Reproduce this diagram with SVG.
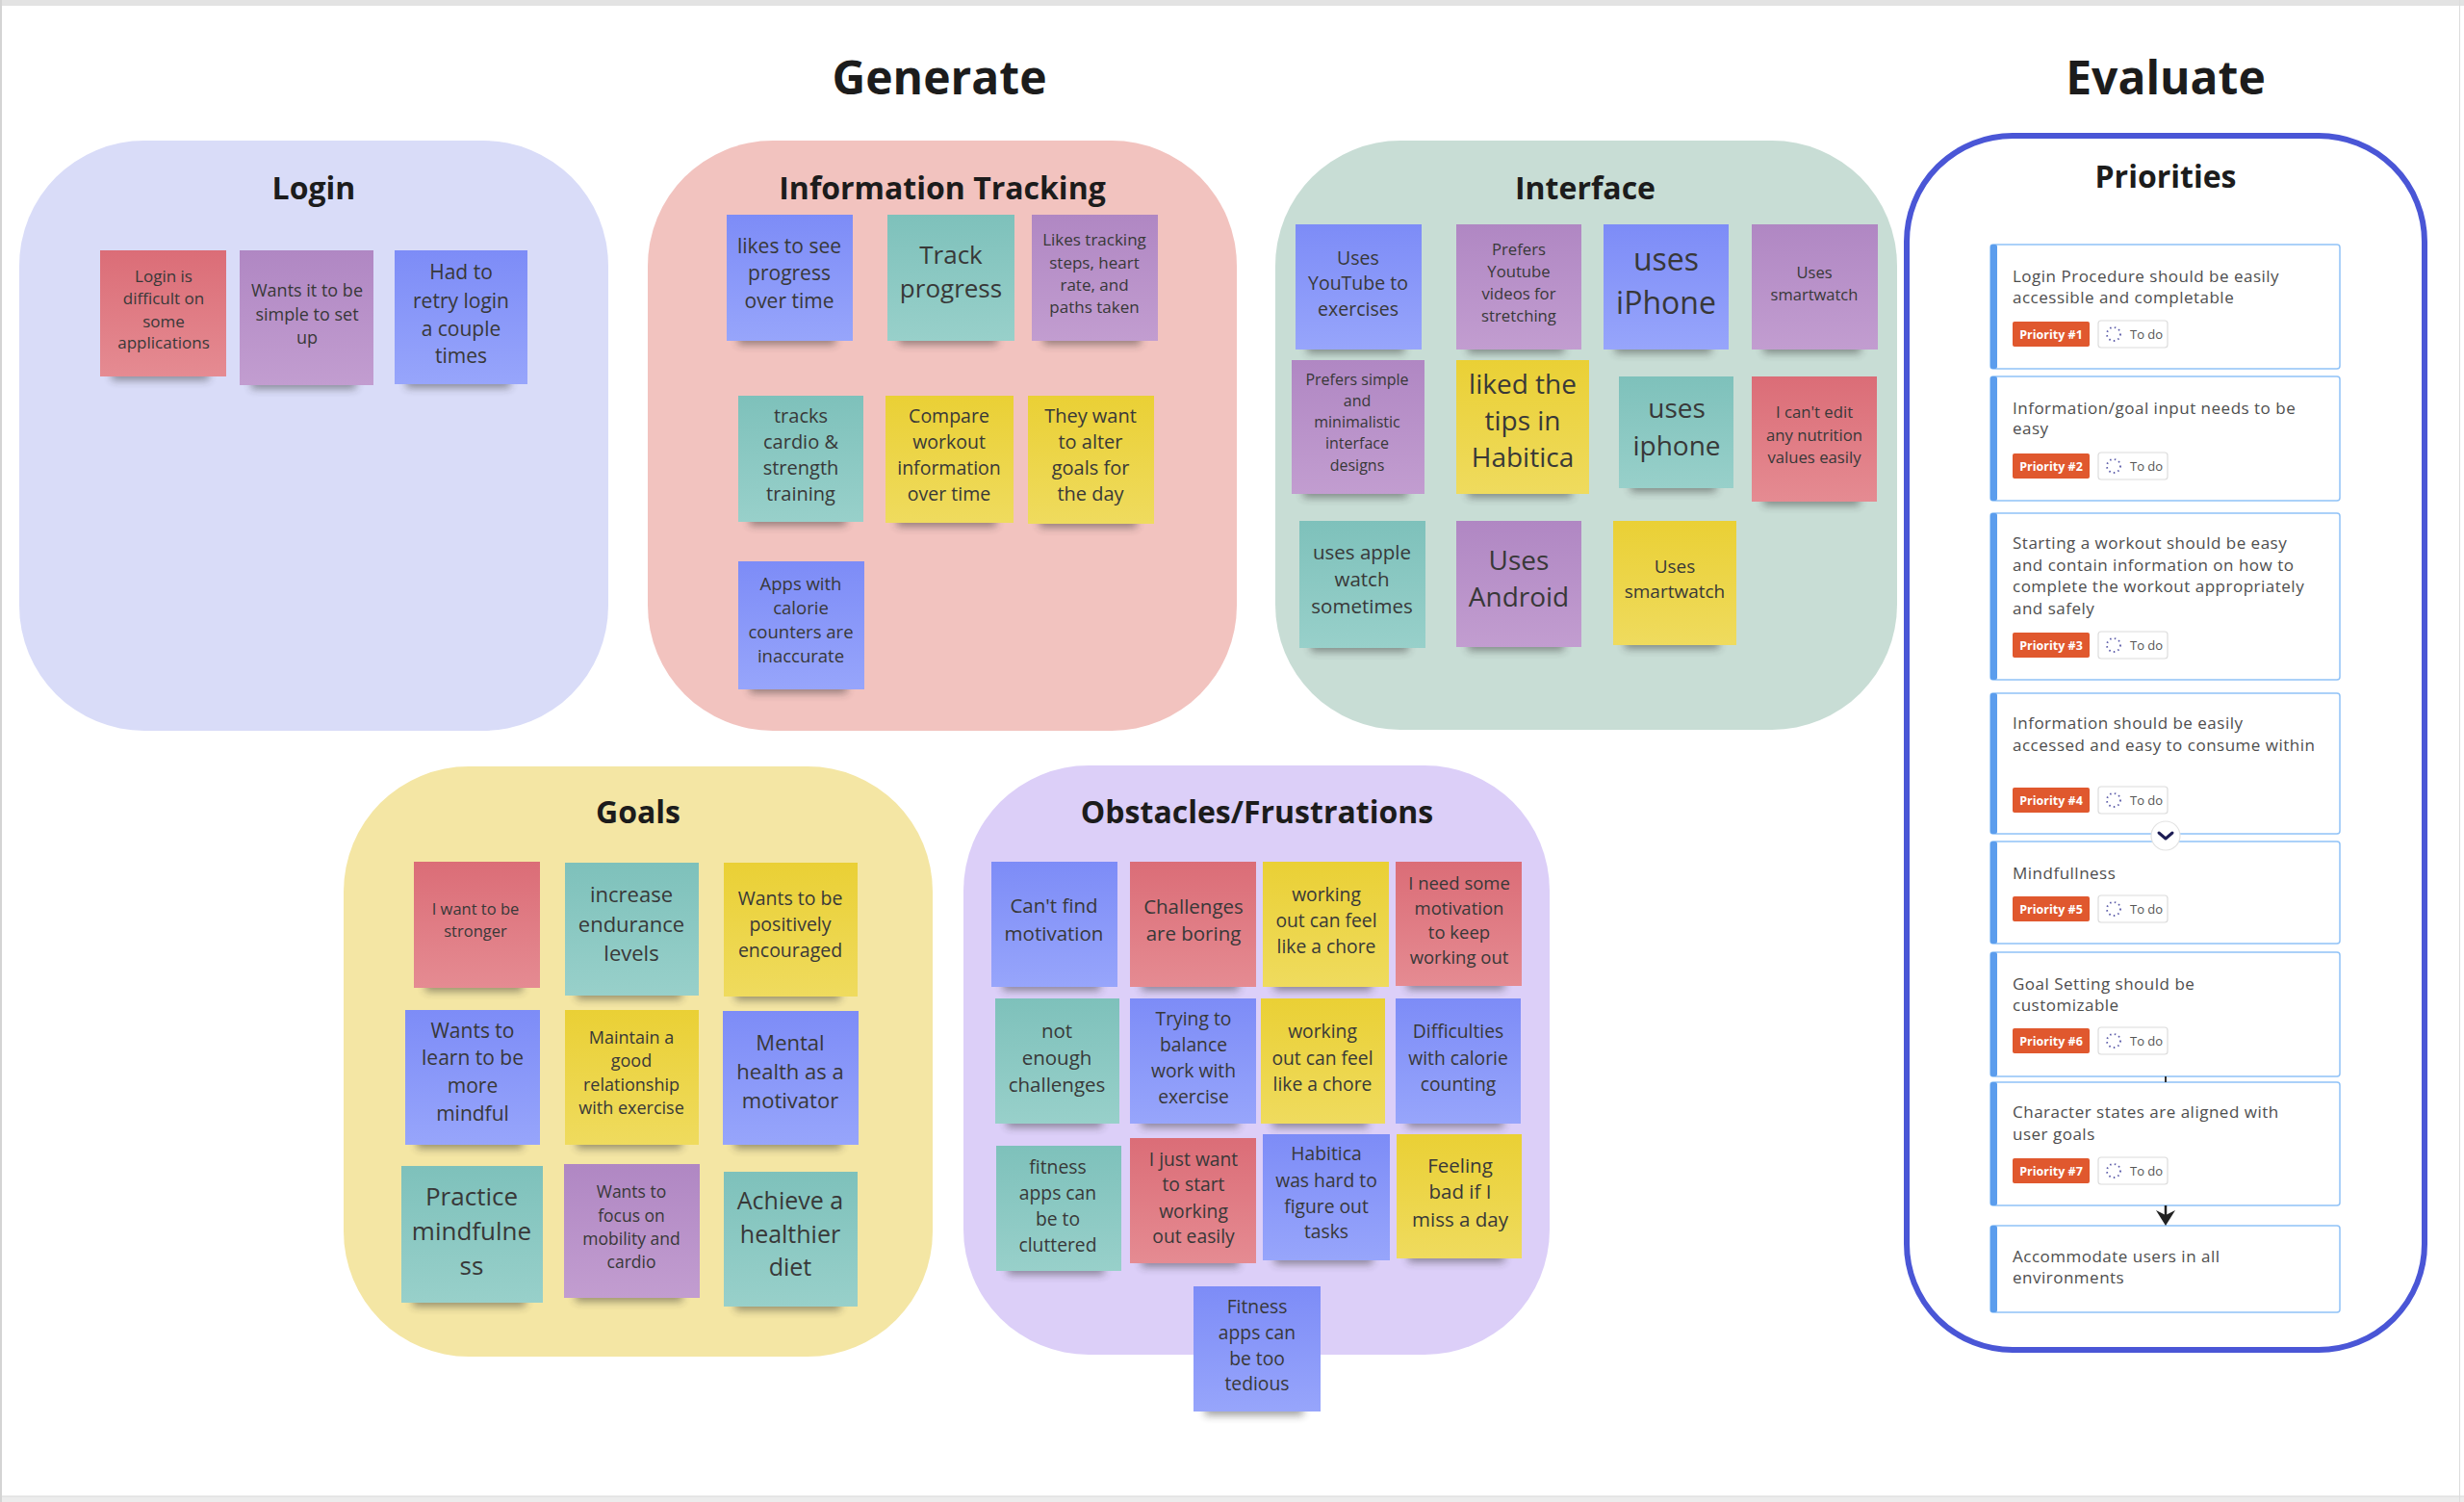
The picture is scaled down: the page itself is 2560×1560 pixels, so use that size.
<svg xmlns="http://www.w3.org/2000/svg" width="2560" height="1560" viewBox="0 0 2560 1560">
<defs>
<linearGradient id="gR" x1="0" y1="0" x2="0" y2="1"><stop offset="0" stop-color="#db6d77"/><stop offset="1" stop-color="#e58b92"/></linearGradient>
<linearGradient id="gP" x1="0" y1="0" x2="0" y2="1"><stop offset="0" stop-color="#b087c3"/><stop offset="1" stop-color="#c29dd0"/></linearGradient>
<linearGradient id="gB" x1="0" y1="0" x2="0" y2="1"><stop offset="0" stop-color="#7d8cf7"/><stop offset="1" stop-color="#97a5fb"/></linearGradient>
<linearGradient id="gT" x1="0" y1="0" x2="0" y2="1"><stop offset="0" stop-color="#7ec1bb"/><stop offset="1" stop-color="#98d0ca"/></linearGradient>
<linearGradient id="gY" x1="0" y1="0" x2="0" y2="1"><stop offset="0" stop-color="#ead035"/><stop offset="1" stop-color="#efdb5e"/></linearGradient>
<filter id="blur" x="-20%" y="-150%" width="140%" height="400%"><feGaussianBlur stdDeviation="4"/></filter>
</defs>
<style>
.t{font-family:"Open Sans","Liberation Sans",sans-serif;fill:#383838;text-anchor:middle}
.sh{fill:#2a2a2a;opacity:.45;filter:url(#blur)}
.ttl{font-family:"Open Sans","Liberation Sans",sans-serif;font-weight:700;font-size:32px;fill:#1c1c1c;text-anchor:middle}
.hd{font-family:"Open Sans","Liberation Sans",sans-serif;font-weight:700;font-size:48px;fill:#1c1c1c;text-anchor:middle}
.card{fill:#fff;stroke:#90c2f7;stroke-width:1.5}
.bar{fill:#5b9ded}
.ct{font-family:"Open Sans","Liberation Sans",sans-serif;font-size:17px;letter-spacing:0.5px;fill:#4e4e4e}
.badge{fill:#e0582e}
.bt{font-family:"Open Sans","Liberation Sans",sans-serif;font-size:12.5px;font-weight:700;fill:#fff;text-anchor:middle}
.todo{fill:#fff;stroke:#dcdcdc;stroke-width:1.2}
.dot{fill:none;stroke:#5a5aa8;stroke-width:1.8;stroke-dasharray:1.5 3.3}
.tt{font-family:"Open Sans","Liberation Sans",sans-serif;font-size:13px;fill:#555}
</style>
<rect x="0" y="0" width="2560" height="1560" fill="#fff"/>
<rect x="0" y="0" width="2560" height="6" fill="#e3e3e3"/>
<rect x="0" y="1554" width="2560" height="6" fill="#ececec"/>
<line x1="0" y1="1554" x2="2560" y2="1554" stroke="#d8d8d8" stroke-width="1"/>
<line x1="1" y1="0" x2="1" y2="1560" stroke="#d4d4d4" stroke-width="2"/>
<line x1="2555.5" y1="0" x2="2555.5" y2="1560" stroke="#dcdcdc" stroke-width="1"/>

<text class="hd" x="976" y="98">Generate</text>
<text class="hd" x="2250" y="98">Evaluate</text>

<g id="cluster-login">
<rect x="20" y="146" width="612" height="613" rx="130" fill="#d9dcf8"/>
<text class="ttl" x="326" y="207">Login</text>
</g>
<g id="cluster-info">
<rect x="673" y="146" width="612" height="613" rx="130" fill="#f2c3bf"/>
<text class="ttl" x="979" y="207">Information Tracking</text>
</g>
<g id="cluster-interface">
<rect x="1325" y="146" width="646" height="612" rx="130" fill="#c8ddd5"/>
<text class="ttl" x="1647" y="207">Interface</text>
</g>
<g id="cluster-goals">
<rect x="357" y="796" width="612" height="613" rx="130" fill="#f4e6a4"/>
<text class="ttl" x="663" y="855">Goals</text>
</g>
<g id="cluster-obstacles">
<rect x="1001" y="795" width="609" height="612" rx="130" fill="#dccff8"/>
<text class="ttl" x="1306" y="855">Obstacles/Frustrations</text>
</g>
<g id="cluster-priorities">
<rect x="1981" y="141" width="538" height="1261" rx="110" fill="#fff" stroke="#4a56d6" stroke-width="6"/>
<text class="ttl" x="2250" y="195">Priorities</text>
</g>

<!-- Login stickies -->
<g id="L1"><rect class="sh" x="116" y="381" width="101" height="14"/><rect x="104" y="260" width="131" height="131" fill="url(#gR)"/><text class="t" font-size="17"><tspan x="170" y="293">Login is</tspan><tspan x="170" y="316">difficult on</tspan><tspan x="170" y="340">some</tspan><tspan x="170" y="362">applications</tspan></text></g>
<g id="L2"><rect class="sh" x="261" y="390" width="109" height="14"/><rect x="249" y="260" width="139" height="140" fill="url(#gP)"/><text class="t" font-size="18"><tspan x="319" y="308">Wants it to be</tspan><tspan x="319" y="333">simple to set</tspan><tspan x="319" y="357">up</tspan></text></g>
<g id="L3"><rect class="sh" x="422" y="389" width="108" height="14"/><rect x="410" y="260" width="138" height="139" fill="url(#gB)"/><text class="t" font-size="21"><tspan x="479" y="290">Had to</tspan><tspan x="479" y="320">retry login</tspan><tspan x="479" y="349">a couple</tspan><tspan x="479" y="377">times</tspan></text></g>

<!-- Information Tracking stickies -->
<g id="I1"><rect class="sh" x="767" y="344" width="101" height="14"/><rect x="755" y="223" width="131" height="131" fill="url(#gB)"/><text class="t" font-size="21"><tspan x="820" y="263">likes to see</tspan><tspan x="820" y="291">progress</tspan><tspan x="820" y="320">over time</tspan></text></g>
<g id="I2"><rect class="sh" x="934" y="344" width="102" height="14"/><rect x="922" y="223" width="132" height="131" fill="url(#gT)"/><text class="t" font-size="26"><tspan x="988" y="274">Track</tspan><tspan x="988" y="309">progress</tspan></text></g>
<g id="I3"><rect class="sh" x="1084" y="344" width="101" height="14"/><rect x="1072" y="223" width="131" height="131" fill="url(#gP)"/><text class="t" font-size="17"><tspan x="1137" y="255">Likes tracking</tspan><tspan x="1137" y="279">steps, heart</tspan><tspan x="1137" y="302">rate, and</tspan><tspan x="1137" y="325">paths taken</tspan></text></g>
<g id="I4"><rect class="sh" x="779" y="532" width="100" height="14"/><rect x="767" y="411" width="130" height="131" fill="url(#gT)"/><text class="t" font-size="20"><tspan x="832" y="439">tracks</tspan><tspan x="832" y="466">cardio &amp;</tspan><tspan x="832" y="493">strength</tspan><tspan x="832" y="520">training</tspan></text></g>
<g id="I5"><rect class="sh" x="932" y="533" width="103" height="14"/><rect x="920" y="411" width="133" height="132" fill="url(#gY)"/><text class="t" font-size="19.5"><tspan x="986" y="439">Compare</tspan><tspan x="986" y="466">workout</tspan><tspan x="986" y="493">information</tspan><tspan x="986" y="520">over time</tspan></text></g>
<g id="I6"><rect class="sh" x="1080" y="534" width="101" height="14"/><rect x="1068" y="411" width="131" height="133" fill="url(#gY)"/><text class="t" font-size="20"><tspan x="1133" y="439">They want</tspan><tspan x="1133" y="466">to alter</tspan><tspan x="1133" y="493">goals for</tspan><tspan x="1133" y="520">the day</tspan></text></g>
<g id="I7"><rect class="sh" x="779" y="706" width="101" height="14"/><rect x="767" y="583" width="131" height="133" fill="url(#gB)"/><text class="t" font-size="18.5"><tspan x="832" y="613">Apps with</tspan><tspan x="832" y="638">calorie</tspan><tspan x="832" y="663">counters are</tspan><tspan x="832" y="688">inaccurate</tspan></text></g>

<!-- Interface stickies -->
<g id="F1"><rect class="sh" x="1358" y="353" width="101" height="14"/><rect x="1346" y="233" width="131" height="130" fill="url(#gB)"/><text class="t" font-size="19.5"><tspan x="1411" y="275">Uses</tspan><tspan x="1411" y="301">YouTube to</tspan><tspan x="1411" y="328">exercises</tspan></text></g>
<g id="F2"><rect class="sh" x="1525" y="353" width="100" height="14"/><rect x="1513" y="233" width="130" height="130" fill="url(#gP)"/><text class="t" font-size="16.7"><tspan x="1578" y="265">Prefers</tspan><tspan x="1578" y="288">Youtube</tspan><tspan x="1578" y="311">videos for</tspan><tspan x="1578" y="334">stretching</tspan></text></g>
<g id="F3"><rect class="sh" x="1678" y="353" width="100" height="14"/><rect x="1666" y="233" width="130" height="130" fill="url(#gB)"/><text class="t" font-size="32"><tspan x="1731" y="281">uses</tspan><tspan x="1731" y="326">iPhone</tspan></text></g>
<g id="F4"><rect class="sh" x="1832" y="353" width="101" height="14"/><rect x="1820" y="233" width="131" height="130" fill="url(#gP)"/><text class="t" font-size="16.5"><tspan x="1885" y="289">Uses</tspan><tspan x="1885" y="312">smartwatch</tspan></text></g>
<g id="F5"><rect class="sh" x="1354" y="503" width="108" height="14"/><rect x="1342" y="374" width="138" height="139" fill="url(#gP)"/><text class="t" font-size="16"><tspan x="1410" y="400">Prefers simple</tspan><tspan x="1410" y="422">and</tspan><tspan x="1410" y="444">minimalistic</tspan><tspan x="1410" y="466">interface</tspan><tspan x="1410" y="489">designs</tspan></text></g>
<g id="F6"><rect class="sh" x="1525" y="503" width="108" height="14"/><rect x="1513" y="374" width="138" height="139" fill="url(#gY)"/><text class="t" font-size="28"><tspan x="1582" y="409">liked the</tspan><tspan x="1582" y="447">tips in</tspan><tspan x="1582" y="485">Habitica</tspan></text></g>
<g id="F7"><rect class="sh" x="1694" y="497" width="89" height="14"/><rect x="1682" y="391" width="119" height="116" fill="url(#gT)"/><text class="t" font-size="28"><tspan x="1742" y="434">uses</tspan><tspan x="1742" y="473">iphone</tspan></text></g>
<g id="F8"><rect class="sh" x="1832" y="511" width="100" height="14"/><rect x="1820" y="391" width="130" height="130" fill="url(#gR)"/><text class="t" font-size="16.7"><tspan x="1885" y="434">I can't edit</tspan><tspan x="1885" y="458">any nutrition</tspan><tspan x="1885" y="481">values easily</tspan></text></g>
<g id="F9"><rect class="sh" x="1362" y="663" width="101" height="14"/><rect x="1350" y="541" width="131" height="132" fill="url(#gT)"/><text class="t" font-size="20.5"><tspan x="1415" y="581">uses apple</tspan><tspan x="1415" y="609">watch</tspan><tspan x="1415" y="637">sometimes</tspan></text></g>
<g id="F10"><rect class="sh" x="1525" y="662" width="100" height="14"/><rect x="1513" y="541" width="130" height="131" fill="url(#gP)"/><text class="t" font-size="28"><tspan x="1578" y="592">Uses</tspan><tspan x="1578" y="630">Android</tspan></text></g>
<g id="F11"><rect class="sh" x="1688" y="660" width="98" height="14"/><rect x="1676" y="541" width="128" height="129" fill="url(#gY)"/><text class="t" font-size="19"><tspan x="1740" y="595">Uses</tspan><tspan x="1740" y="621">smartwatch</tspan></text></g>

<!-- Goals stickies -->
<g id="G1"><rect class="sh" x="442" y="1016" width="101" height="14"/><rect x="430" y="895" width="131" height="131" fill="url(#gR)"/><text class="t" font-size="16.5"><tspan x="494" y="950">I want to be</tspan><tspan x="494" y="973">stronger</tspan></text></g>
<g id="G2"><rect class="sh" x="599" y="1024" width="109" height="14"/><rect x="587" y="896" width="139" height="138" fill="url(#gT)"/><text class="t" font-size="22"><tspan x="656" y="937">increase</tspan><tspan x="656" y="968">endurance</tspan><tspan x="656" y="998">levels</tspan></text></g>
<g id="G3"><rect class="sh" x="764" y="1025" width="109" height="14"/><rect x="752" y="896" width="139" height="139" fill="url(#gY)"/><text class="t" font-size="19.5"><tspan x="821" y="940">Wants to be</tspan><tspan x="821" y="967">positively</tspan><tspan x="821" y="994">encouraged</tspan></text></g>
<g id="G4"><rect class="sh" x="433" y="1179" width="110" height="14"/><rect x="421" y="1049" width="140" height="140" fill="url(#gB)"/><text class="t" font-size="21"><tspan x="491" y="1078">Wants to</tspan><tspan x="491" y="1106">learn to be</tspan><tspan x="491" y="1135">more</tspan><tspan x="491" y="1164">mindful</tspan></text></g>
<g id="G5"><rect class="sh" x="599" y="1179" width="109" height="14"/><rect x="587" y="1049" width="139" height="140" fill="url(#gY)"/><text class="t" font-size="18"><tspan x="656" y="1084">Maintain a</tspan><tspan x="656" y="1108">good</tspan><tspan x="656" y="1133">relationship</tspan><tspan x="656" y="1157">with exercise</tspan></text></g>
<g id="G6"><rect class="sh" x="763" y="1179" width="111" height="14"/><rect x="751" y="1050" width="141" height="139" fill="url(#gB)"/><text class="t" font-size="22"><tspan x="821" y="1091">Mental</tspan><tspan x="821" y="1121">health as a</tspan><tspan x="821" y="1151">motivator</tspan></text></g>
<g id="G7"><rect class="sh" x="429" y="1343" width="117" height="14"/><rect x="417" y="1211" width="147" height="142" fill="url(#gT)"/><text class="t" font-size="26"><tspan x="490" y="1252">Practice</tspan><tspan x="490" y="1288">mindfulne</tspan><tspan x="490" y="1324">ss</tspan></text></g>
<g id="G8"><rect class="sh" x="598" y="1338" width="111" height="14"/><rect x="586" y="1209" width="141" height="139" fill="url(#gP)"/><text class="t" font-size="17.5"><tspan x="656" y="1244">Wants to</tspan><tspan x="656" y="1269">focus on</tspan><tspan x="656" y="1293">mobility and</tspan><tspan x="656" y="1317">cardio</tspan></text></g>
<g id="G9"><rect class="sh" x="764" y="1347" width="109" height="14"/><rect x="752" y="1217" width="139" height="140" fill="url(#gT)"/><text class="t" font-size="25"><tspan x="821" y="1256">Achieve a</tspan><tspan x="821" y="1291">healthier</tspan><tspan x="821" y="1325">diet</tspan></text></g>

<!-- Obstacles stickies -->
<g id="O1"><rect class="sh" x="1042" y="1015" width="101" height="14"/><rect x="1030" y="895" width="131" height="130" fill="url(#gB)"/><text class="t" font-size="20.5"><tspan x="1095" y="948">Can't find</tspan><tspan x="1095" y="977">motivation</tspan></text></g>
<g id="O2"><rect class="sh" x="1186" y="1015" width="101" height="14"/><rect x="1174" y="895" width="131" height="130" fill="url(#gR)"/><text class="t" font-size="20.5"><tspan x="1240" y="949">Challenges</tspan><tspan x="1240" y="977">are boring</tspan></text></g>
<g id="O3"><rect class="sh" x="1324" y="1015" width="101" height="14"/><rect x="1312" y="895" width="131" height="130" fill="url(#gY)"/><text class="t" font-size="19.3"><tspan x="1378" y="936">working</tspan><tspan x="1378" y="963">out can feel</tspan><tspan x="1378" y="990">like a chore</tspan></text></g>
<g id="O4"><rect class="sh" x="1462" y="1014" width="101" height="14"/><rect x="1450" y="895" width="131" height="129" fill="url(#gR)"/><text class="t" font-size="18.5"><tspan x="1516" y="924">I need some</tspan><tspan x="1516" y="950">motivation</tspan><tspan x="1516" y="975">to keep</tspan><tspan x="1516" y="1001">working out</tspan></text></g>
<g id="O5"><rect class="sh" x="1046" y="1157" width="99" height="14"/><rect x="1034" y="1037" width="129" height="130" fill="url(#gT)"/><text class="t" font-size="20.5"><tspan x="1098" y="1078">not</tspan><tspan x="1098" y="1106">enough</tspan><tspan x="1098" y="1134">challenges</tspan></text></g>
<g id="O6"><rect class="sh" x="1186" y="1157" width="101" height="14"/><rect x="1174" y="1037" width="131" height="130" fill="url(#gB)"/><text class="t" font-size="19.3"><tspan x="1240" y="1065">Trying to</tspan><tspan x="1240" y="1092">balance</tspan><tspan x="1240" y="1119">work with</tspan><tspan x="1240" y="1146">exercise</tspan></text></g>
<g id="O7"><rect class="sh" x="1322" y="1157" width="99" height="14"/><rect x="1310" y="1037" width="129" height="130" fill="url(#gY)"/><text class="t" font-size="19.3"><tspan x="1374" y="1078">working</tspan><tspan x="1374" y="1106">out can feel</tspan><tspan x="1374" y="1133">like a chore</tspan></text></g>
<g id="O8"><rect class="sh" x="1462" y="1157" width="100" height="14"/><rect x="1450" y="1037" width="130" height="130" fill="url(#gB)"/><text class="t" font-size="19.3"><tspan x="1515" y="1078">Difficulties</tspan><tspan x="1515" y="1106">with calorie</tspan><tspan x="1515" y="1133">counting</tspan></text></g>
<g id="O9"><rect class="sh" x="1047" y="1310" width="100" height="14"/><rect x="1035" y="1190" width="130" height="130" fill="url(#gT)"/><text class="t" font-size="19.3"><tspan x="1099" y="1219">fitness</tspan><tspan x="1099" y="1246">apps can</tspan><tspan x="1099" y="1273">be to</tspan><tspan x="1099" y="1300">cluttered</tspan></text></g>
<g id="O10"><rect class="sh" x="1186" y="1302" width="101" height="14"/><rect x="1174" y="1182" width="131" height="130" fill="url(#gR)"/><text class="t" font-size="19.3"><tspan x="1240" y="1211">I just want</tspan><tspan x="1240" y="1237">to start</tspan><tspan x="1240" y="1265">working</tspan><tspan x="1240" y="1291">out easily</tspan></text></g>
<g id="O11"><rect class="sh" x="1324" y="1299" width="102" height="14"/><rect x="1312" y="1178" width="132" height="131" fill="url(#gB)"/><text class="t" font-size="19.3"><tspan x="1378" y="1205">Habitica</tspan><tspan x="1378" y="1233">was hard to</tspan><tspan x="1378" y="1260">figure out</tspan><tspan x="1378" y="1286">tasks</tspan></text></g>
<g id="O12"><rect class="sh" x="1463" y="1297" width="100" height="14"/><rect x="1451" y="1178" width="130" height="129" fill="url(#gY)"/><text class="t" font-size="20.5"><tspan x="1517" y="1218">Feeling</tspan><tspan x="1517" y="1245">bad if I</tspan><tspan x="1517" y="1274">miss a day</tspan></text></g>
<g id="O13"><rect class="sh" x="1252" y="1456" width="102" height="14"/><rect x="1240" y="1336" width="132" height="130" fill="url(#gB)"/><text class="t" font-size="19.3"><tspan x="1306" y="1364">Fitness</tspan><tspan x="1306" y="1391">apps can</tspan><tspan x="1306" y="1418">be too</tspan><tspan x="1306" y="1444">tedious</tspan></text></g>

<!-- Priority cards -->
<g id="P1"><rect class="card" x="2068" y="254" width="363" height="129" rx="3"/><rect class="bar" x="2068" y="254" width="7" height="129" rx="2"/><text class="ct"><tspan x="2091" y="293">Login Procedure should be easily</tspan><tspan x="2091" y="315">accessible and completable</tspan></text><rect class="badge" x="2091" y="334" width="80" height="26" rx="2"/><text class="bt" x="2131" y="352">Priority #1</text><rect class="todo" x="2180" y="333" width="72" height="28" rx="3"/><circle class="dot" cx="2196" cy="347" r="7"/><text class="tt" x="2213" y="352">To do</text></g>
<g id="P2"><rect class="card" x="2068" y="391" width="363" height="129" rx="3"/><rect class="bar" x="2068" y="391" width="7" height="129" rx="2"/><text class="ct"><tspan x="2091" y="430">Information/goal input needs to be</tspan><tspan x="2091" y="451">easy</tspan></text><rect class="badge" x="2091" y="471" width="80" height="26" rx="2"/><text class="bt" x="2131" y="489">Priority #2</text><rect class="todo" x="2180" y="470" width="72" height="28" rx="3"/><circle class="dot" cx="2196" cy="484" r="7"/><text class="tt" x="2213" y="489">To do</text></g>
<g id="P3"><rect class="card" x="2068" y="533" width="363" height="173" rx="3"/><rect class="bar" x="2068" y="533" width="7" height="173" rx="2"/><text class="ct"><tspan x="2091" y="570">Starting a workout should be easy</tspan><tspan x="2091" y="593">and contain information on how to</tspan><tspan x="2091" y="615">complete the workout appropriately</tspan><tspan x="2091" y="638">and safely</tspan></text><rect class="badge" x="2091" y="657" width="80" height="26" rx="2"/><text class="bt" x="2131" y="675">Priority #3</text><rect class="todo" x="2180" y="656" width="72" height="28" rx="3"/><circle class="dot" cx="2196" cy="670" r="7"/><text class="tt" x="2213" y="675">To do</text></g>
<g id="P4"><rect class="card" x="2068" y="720" width="363" height="146" rx="3"/><rect class="bar" x="2068" y="720" width="7" height="146" rx="2"/><text class="ct"><tspan x="2091" y="757">Information should be easily</tspan><tspan x="2091" y="780">accessed and easy to consume within</tspan></text><rect class="badge" x="2091" y="818" width="80" height="26" rx="2"/><text class="bt" x="2131" y="836">Priority #4</text><rect class="todo" x="2180" y="817" width="72" height="28" rx="3"/><circle class="dot" cx="2196" cy="831" r="7"/><text class="tt" x="2213" y="836">To do</text></g>
<g id="P5"><rect class="card" x="2068" y="874" width="363" height="106" rx="3"/><rect class="bar" x="2068" y="874" width="7" height="106" rx="2"/><text class="ct"><tspan x="2091" y="913">Mindfullness</tspan></text><rect class="badge" x="2091" y="931" width="80" height="26" rx="2"/><text class="bt" x="2131" y="949">Priority #5</text><rect class="todo" x="2180" y="930" width="72" height="28" rx="3"/><circle class="dot" cx="2196" cy="944" r="7"/><text class="tt" x="2213" y="949">To do</text></g>
<g id="P6"><rect class="card" x="2068" y="989" width="363" height="129" rx="3"/><rect class="bar" x="2068" y="989" width="7" height="129" rx="2"/><text class="ct"><tspan x="2091" y="1028">Goal Setting should be</tspan><tspan x="2091" y="1050">customizable</tspan></text><rect class="badge" x="2091" y="1068" width="80" height="26" rx="2"/><text class="bt" x="2131" y="1086">Priority #6</text><rect class="todo" x="2180" y="1067" width="72" height="28" rx="3"/><circle class="dot" cx="2196" cy="1081" r="7"/><text class="tt" x="2213" y="1086">To do</text></g>
<g id="P7"><rect class="card" x="2068" y="1124" width="363" height="128" rx="3"/><rect class="bar" x="2068" y="1124" width="7" height="128" rx="2"/><text class="ct"><tspan x="2091" y="1161">Character states are aligned with</tspan><tspan x="2091" y="1184">user goals</tspan></text><rect class="badge" x="2091" y="1203" width="80" height="26" rx="2"/><text class="bt" x="2131" y="1221">Priority #7</text><rect class="todo" x="2180" y="1202" width="72" height="28" rx="3"/><circle class="dot" cx="2196" cy="1216" r="7"/><text class="tt" x="2213" y="1221">To do</text></g>
<g id="P8"><rect class="card" x="2068" y="1273" width="363" height="90" rx="3"/><rect class="bar" x="2068" y="1273" width="7" height="90" rx="2"/><text class="ct"><tspan x="2091" y="1311">Accommodate users in all</tspan><tspan x="2091" y="1333">environments</tspan></text></g>

<g id="connectors">
<circle cx="2250" cy="868" r="15" fill="#fff" stroke="#e2e2e2" stroke-width="1.2"/>
<path d="M2243,865 L2250,871 L2257,865" fill="none" stroke="#1d1d55" stroke-width="3" stroke-linecap="round" stroke-linejoin="round"/>
<line x1="2250" y1="1118" x2="2250" y2="1124" stroke="#333" stroke-width="2"/>
<line x1="2250" y1="1252" x2="2250" y2="1262" stroke="#222" stroke-width="2.5"/>
<path d="M2240,1257 L2250,1262 L2260,1257 L2250,1273 Z" fill="#222"/>
</g>
</svg>
